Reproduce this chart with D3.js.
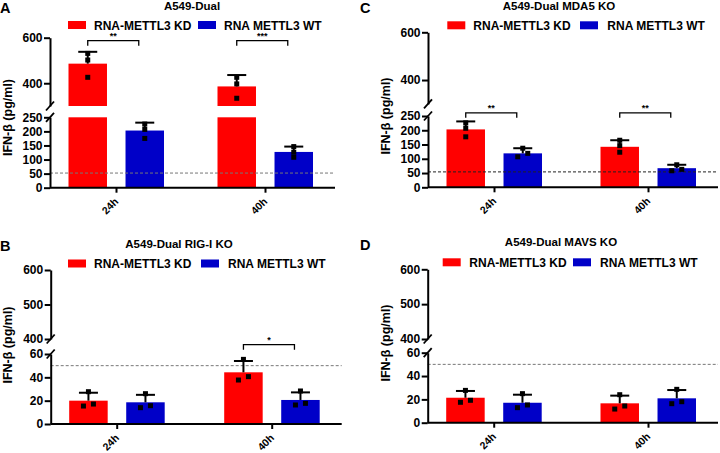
<!DOCTYPE html>
<html><head><meta charset="utf-8">
<script src="https://cdn.jsdelivr.net/npm/d3@7"></script>
<style>
body{margin:0;background:#fff}
svg{display:block}
text{font-family:"Liberation Sans",Arial,sans-serif;font-weight:bold;fill:#000}
</style>
</head><body>
<svg id="chart" width="720" height="453"></svg>
<script>
// ---------- data ----------
const categories = ["24h", "40h"];
const series = ["RNA-METTL3 KD", "RNA METTL3 WT"];
const yLabel = "IFN-β (pg/ml)";

// Panel A: A549-Dual   [series][category]
const meanA = [[486, 386], [203, 127]];
const sdA   = [[52, 50], [28, 19]];
const ptsA  = [[[531, 502, 426], [426, 397, 334]], [[226, 207, 175], [146, 126, 108]]];
const sigA  = [["24h", "**", 587], ["40h", "***", 587]];
const refA  = 52;

// Panel C: A549-Dual MDA5 KO
const meanC = [[203, 142], [119, 67]];
const sdC   = [[28, 23], [18, 12]];
const ptsC  = [[[226, 207, 177], [165, 146, 123]], [[137, 119, 107], [79, 63, 58]]];
const sigC  = [["24h", "**", 261], ["40h", "**", 261]];
const refC  = 54;

// Panel B: A549-Dual RIG-I KO
const meanB = [[20, 44.3], [18.6, 20.6]];
const sdB   = [[6.8, 9.7], [6.4, 6.5]];
const ptsB  = [[[27.7, 15.4, 17.1], [55.4, 37.7, 40.6]], [[26, 14, 15.7], [28.3, 16.3, 17.7]]];
const sigB  = [["40h", "*", 68]];
const refB  = 50;

// Panel D: A549-Dual MAVS KO
const meanD = [[21.4, 16.6], [17.1, 20.9]];
const sdD   = [[5.8, 6.6], [6.9, 7.1]];
const ptsD  = [[[27.7, 17.5, 19.2], [24, 11.7, 14.3]], [[24.9, 12.9, 15.2], [28.6, 16.3, 18]]];
const sigD  = [];
const refD  = 50;

// axis domains & ticks
const lowDomA = [0, 250], upDomA = [300, 600];
const lowTicksA = [0, 50, 100, 150, 200, 250], upTicksA = [400, 600];
const lowDomB = [0, 60], upDomB = [400, 600];
const lowTicksB = [0, 20, 40, 60], upTicksB = [400, 500, 600];

const colors = ["#ff0000", "#0000c8"];

// ---------- layout ----------
const panels = [
  {letter: "A", title: "A549-Dual", mean: meanA, sd: sdA, pts: ptsA, sig: sigA, ref: refA,
   lowDom: lowDomA, upDom: upDomA, lowTicks: lowTicksA, upTicks: upTicksA,
   ax: 50, xEnd: 335, lowR: [187.7, 117.3], upR: [106, 37.7],
   letterPos: [0, 12.5], titlePos: [192, 10], ylabPos: [11.5, 117.5],
   legend: {y: 21, r: 68, t: 94, b: 198, bt: 224}, refColor: "#777"},
  {letter: "C", title: "A549-Dual MDA5 KO", mean: meanC, sd: sdC, pts: ptsC, sig: sigC, ref: refC,
   lowDom: lowDomA, upDom: upDomA, lowTicks: lowTicksA, upTicks: upTicksA,
   ax: 428, xEnd: 718, lowR: [187.3, 116], upR: [103.9, 32.3],
   letterPos: [360, 12.5], titlePos: [559, 10], ylabPos: [389.5, 116],
   legend: {y: 21.3, r: 447.3, t: 473.3, b: 580, bt: 607.3}, refColor: "#222"},
  {letter: "B", title: "A549-Dual RIG-I KO", mean: meanB, sd: sdB, pts: ptsB, sig: sigB, ref: refB,
   lowDom: lowDomB, upDom: upDomB, lowTicks: lowTicksB, upTicks: upTicksB,
   ax: 50.7, xEnd: 341.7, lowR: [424, 354], upR: [339, 270],
   letterPos: [0, 250.5], titlePos: [179, 247.5], ylabPos: [11.5, 345],
   legend: {y: 259.5, r: 68, t: 94, b: 201, bt: 228}, refColor: "#777"},
  {letter: "D", title: "A549-Dual MAVS KO", mean: meanD, sd: sdD, pts: ptsD, sig: sigD, ref: refD,
   lowDom: lowDomB, upDom: upDomB, lowTicks: lowTicksB, upTicks: upTicksB,
   ax: 427.7, xEnd: 718, lowR: [422.7, 352.7], upR: [339, 269.3],
   letterPos: [360, 249.5], titlePos: [561, 246], ylabPos: [389.5, 343],
   legend: {y: 258.3, r: 442.7, t: 469.3, b: 573, bt: 600}, refColor: "#777"}
];

const svg = d3.select("#chart");

panels.forEach(p => {
  const g = svg.append("g");
  const x = d3.scalePoint().domain(categories).range([p.ax + 66, p.xEnd - 70]);
  const xs = d3.scaleBand().domain(series).range([-47.5, 48]).paddingInner(0.325);
  const yLow = d3.scaleLinear().domain(p.lowDom).range(p.lowR);
  const yUp = d3.scaleLinear().domain(p.upDom).range(p.upR);
  const yOf = v => v >= p.upDom[0] ? yUp(v) : yLow(v);
  const bw = xs.bandwidth();

  // bars
  series.forEach((s, si) => {
    categories.forEach((c, ci) => {
      const m = p.mean[si][ci];
      const x0 = x(c) + xs(s);
      if (m > p.upDom[0]) {
        g.append("rect").attr("x", x0).attr("width", bw)
          .attr("y", yLow(p.lowDom[1])).attr("height", yLow(0) - yLow(p.lowDom[1]))
          .attr("fill", colors[si]);
        g.append("rect").attr("x", x0).attr("width", bw)
          .attr("y", yUp(m)).attr("height", yUp(p.upDom[0]) - yUp(m))
          .attr("fill", colors[si]);
      } else {
        g.append("rect").attr("x", x0).attr("width", bw)
          .attr("y", yLow(m)).attr("height", yLow(0) - yLow(m))
          .attr("fill", colors[si]);
      }
    });
  });

  // reference dashed line
  g.append("line").attr("x1", p.ax).attr("x2", p.xEnd)
    .attr("y1", yLow(p.ref)).attr("y2", yLow(p.ref))
    .attr("stroke", p.refColor).attr("stroke-width", 1).attr("stroke-dasharray", "3,2");

  // error bars + points
  series.forEach((s, si) => {
    categories.forEach((c, ci) => {
      const m = p.mean[si][ci], sd = p.sd[si][ci];
      const cx = x(c) + xs(s) + bw / 2;
      g.append("line").attr("x1", cx).attr("x2", cx)
        .attr("y1", yOf(m)).attr("y2", yOf(m + sd))
        .attr("stroke", "#000").attr("stroke-width", 2);
      g.append("line").attr("x1", cx - 9.5).attr("x2", cx + 9.5)
        .attr("y1", yOf(m + sd)).attr("y2", yOf(m + sd))
        .attr("stroke", "#000").attr("stroke-width", 2);
      const pts = p.pts[si][ci].slice().sort((a, b) => b - a);
      const spread = Math.abs(yOf(pts[1]) - yOf(pts[2])) < 4.5;
      const offs = spread ? [0, 5, -5] : [0, 0, 0];
      pts.forEach((v, k) => {
        g.append("rect").attr("x", cx + offs[k] - 2.5).attr("y", yOf(v) - 2.5)
          .attr("width", 5).attr("height", 5).attr("fill", "#000");
      });
    });
  });

  // significance brackets
  p.sig.forEach(([c, label, v]) => {
    const x1 = x(c) + xs(series[0]) + bw / 2;
    const x2 = x(c) + xs(series[1]) + bw / 2 - 6;
    const yy = yOf(v);
    g.append("path").attr("d", `M${x1},${yy + 5}V${yy}H${x2}V${yy + 5}`)
      .attr("fill", "none").attr("stroke", "#000").attr("stroke-width", 1.3);
    g.append("text").attr("x", (x1 + x2) / 2).attr("y", yy - 1.5)
      .attr("text-anchor", "middle").attr("font-size", 9).text(label);
  });

  // y axes (two segments)
  const axL = d3.axisLeft(yLow).tickValues(p.lowTicks).tickSize(6).tickPadding(1.5).tickSizeOuter(0);
  const axU = d3.axisLeft(yUp).tickValues(p.upTicks).tickSize(6).tickPadding(1.5).tickSizeOuter(0);
  [axL, axU].forEach(a => {
    const ag = g.append("g").attr("transform", `translate(${p.ax},0)`).call(a);
    ag.select(".domain").attr("stroke-width", 2);
    ag.selectAll(".tick line").attr("stroke-width", 2);
    ag.selectAll(".tick text").attr("font-size", 12)
      .style("font-family", '"Liberation Sans",Arial,sans-serif').style("font-weight", "bold");
  });
  // break marks
  [p.upR[0], p.lowR[1]].forEach(yb => {
    g.append("line").attr("x1", p.ax - 4).attr("x2", p.ax + 4)
      .attr("y1", yb + 4.5).attr("y2", yb - 4.5)
      .attr("stroke", "#000").attr("stroke-width", 1.8);
  });

  // x axis
  const axX = d3.axisBottom(x).tickSize(5).tickSizeOuter(0).tickFormat("");
  const xg = g.append("g").attr("transform", `translate(0,${p.lowR[0]})`).call(axX);
  xg.select(".domain").attr("d", `M${p.ax},0H${p.xEnd}`).attr("stroke-width", 2);
  xg.selectAll(".tick line").attr("stroke-width", 2);
  categories.forEach(c => {
    g.append("text").attr("text-anchor", "end").attr("font-size", 10.5)
      .attr("transform", `translate(${x(c) + 3},${p.lowR[0] + 14.5}) rotate(-45)`)
      .text(c);
  });

  // titles & labels
  g.append("text").attr("x", p.letterPos[0]).attr("y", p.letterPos[1])
    .attr("font-size", 14.5).text(p.letter);
  g.append("text").attr("x", p.titlePos[0]).attr("y", p.titlePos[1])
    .attr("text-anchor", "middle").attr("font-size", 11.5).text(p.title);
  g.append("text").attr("text-anchor", "middle").attr("font-size", 12.5)
    .attr("transform", `translate(${p.ylabPos[0]},${p.ylabPos[1]}) rotate(-90)`)
    .text(yLabel);

  // legend
  const L = p.legend;
  [[L.r, L.t], [L.b, L.bt]].forEach(([rx, tx], si) => {
    g.append("rect").attr("x", rx).attr("y", L.y).attr("width", 18).attr("height", 8)
      .attr("fill", colors[si]);
    g.append("text").attr("x", tx).attr("y", L.y + 8.6).attr("font-size", 12).text(series[si]);
  });
});
</script>
</body></html>
